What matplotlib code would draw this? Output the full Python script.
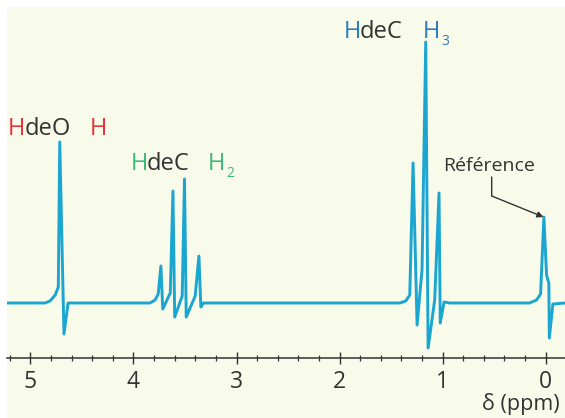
import matplotlib
matplotlib.use("Agg")
from matplotlib import pyplot as plt
from matplotlib.patches import Rectangle
from matplotlib.transforms import IdentityTransform
import numpy as np

# spectrum trace: chemical shift (ppm) and intensity (baseline = 0)
shift_ppm = [5.23,
             4.86, 4.81, 4.76, 4.73, 4.716, 4.675, 4.635,
             3.84, 3.79, 3.76, 3.734, 3.716, 3.643, 3.617, 3.600,
             3.527, 3.505, 3.488, 3.401, 3.365, 3.346, 3.321,
             1.415, 1.357, 1.318, 1.286, 1.247, 1.199, 1.163, 1.140,
             1.076, 1.034, 1.022, 0.985, 0.930,
             0.155, 0.087, 0.048, 0.016, -0.010, -0.032, -0.037, -0.071, -0.19]
intensity = [0,
             0, 2, 8, 16, 161, -31, 0,
             0, 3, 9, 37, -6, 10, 112, -14,
             7, 124, -14, 7, 47, -4, 0,
             0, 2, 8, 140, -22, 33, 261, -45,
             3, 110, -20, 1, 0,
             0, 3, 9, 86, 28, 20, -35, -1, 0]

major_ticks = [5, 4, 3, 2, 1, 0]
tick_labels = ["5", "4", "3", "2", "1", "0"]

line_color = "#1aa6d0"
dark = "#333333"
red = "#e2373a"
green = "#3dbb78"
blue = "#2a7cc0"

plt.rcParams['font.family'] = ['Open Sans', 'DejaVu Sans']

W, H = 565, 418
fig = plt.figure(figsize=(W / 100, H / 100), dpi=100)
fig.patch.set_facecolor("white")
fig.patches.append(Rectangle((7 / W, 0), 1 - 7 / W, 1 - 7 / H, transform=fig.transFigure,
                             facecolor="#f8faea", edgecolor="none", zorder=-5))

ax = fig.add_axes([7 / W, (H - 358) / H, 1 - 7 / W, (358 - 7) / H])
ax.patch.set_alpha(0)
ax.plot(shift_ppm, intensity, color=line_color, lw=2.1, solid_joinstyle="round")
ax.set_xlim(5.228, -0.189)
ax.set_ylim(-55, 296)

for s in ["top", "left", "right"]:
    ax.spines[s].set_visible(False)
ax.spines["bottom"].set_color(dark)
ax.spines["bottom"].set_linewidth(1.1)
ax.set_yticks([])
ax.set_xticks(major_ticks)
ax.set_xticklabels(tick_labels)
ax.set_xticks(np.arange(0, 5.21, 0.2), minor=True)
ax.tick_params(axis="x", which="major", direction="inout", length=8, width=1, color=dark,
               labelsize=16.5, labelcolor=dark, pad=5)
ax.tick_params(axis="x", which="minor", direction="inout", length=5, width=0.9, color=dark)


def ftext(x, y, s, color, size=17, **kw):
    # x, y in image pixels (origin top-left)
    fig.text(x, H - y, s, color=color, fontsize=size, transform=IdentityTransform(),
             ha="left", va="baseline", **kw)


# O-H label
ftext(8, 135, "H", red)
ftext(25, 135, "deO", dark)
ftext(90, 135, "H", red)
# CH2 label
ftext(131, 170, "H", green)
ftext(147, 170, "deC", dark)
ftext(208, 170, "H", green)
ftext(226, 177, "2", green, size=10)
# CH3 label
ftext(344, 38, "H", blue)
ftext(360, 38, "deC", dark)
ftext(423, 38, "H", blue)
ftext(441, 45, "3", blue, size=10)

# reference label with bent leader
ftext(443, 171, "Référence", dark, size=14)
ax.annotate("", xy=(0.02, 86), xycoords="data", xytext=(491.7, H - 196),
            textcoords="figure pixels",
            arrowprops=dict(arrowstyle="-|>", color=dark, lw=1, mutation_scale=9,
                            shrinkA=0, shrinkB=0))
ax.annotate("", xy=(491.7, H - 196), xycoords="figure pixels", xytext=(491.7, H - 177),
            textcoords="figure pixels",
            arrowprops=dict(arrowstyle="-", color=dark, lw=1, shrinkA=0, shrinkB=0))

ftext(482, 410, "δ (ppm)", dark, size=15.5)

fig.savefig("out.png", dpi=100)
